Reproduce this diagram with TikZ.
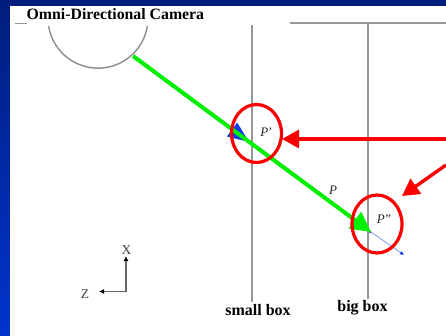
\documentclass[tikz,border=0pt]{standalone}
\usepackage{fontspec}
\setmainfont{Liberation Serif}
\usetikzlibrary{arrows.meta,shapes.geometric}
\definecolor{navy}{RGB}{0,30,125}
\definecolor{brightblue}{RGB}{0,52,205}
\definecolor{boxgray}{RGB}{150,150,150}
\definecolor{arcgray}{RGB}{140,140,140}
\definecolor{rayblue}{RGB}{20,60,230}
\definecolor{raygreen}{RGB}{0,240,0}
\definecolor{alertred}{RGB}{250,0,0}
\tikzset{
  x=1pt,y=-1pt,
  boxline/.style={draw=boxgray,line width=2pt},
  axisline/.style={draw=black!60,line width=1.1pt,-{Latex[length=5pt,width=5pt,black]}},
  ringmark/.style={draw=alertred,line width=3.2pt,ellipse,minimum width=50pt,minimum height=58pt,inner sep=0pt},
  redarrow/.style={draw=alertred,line width=3.4pt,-{Triangle[length=17pt,width=18pt,fill=alertred]}},
  bluetip/.style={draw=rayblue,line width=1pt,-{Triangle[length=21pt,width=17pt,fill=rayblue]}},
  greenray/.style={draw=raygreen,line width=4pt,-{Triangle[length=20pt,width=20pt,fill=raygreen]}},
  thinblue/.style={draw=rayblue!60,line width=0.7pt,-{Latex[length=4pt,width=4pt,rayblue]}},
  lbl/.style={font=\fontsize{16}{16}\selectfont\bfseries,text=black,inner sep=0pt},
  plbl/.style={font=\fontsize{13}{13}\selectfont\itshape,text=black!85,inner sep=0pt},
  axlbl/.style={font=\fontsize{13.5}{14}\selectfont,text=black!75,inner sep=0pt},
  dotmark/.style={circle,fill=black!60,minimum size=3pt,inner sep=0pt}
}
\begin{document}
\begin{tikzpicture}
\useasboundingbox (0,0) rectangle (446,336);
\shade[top color=navy,bottom color=brightblue] (0,0) rectangle (446,336);
\fill[navy] (0,0) rectangle (446,6);
\fill[white] (10,6) rectangle (446,336);
% frame lines
\coordinate (stubA) at (15,23); \coordinate (stubB) at (27,23);
\draw[draw=boxgray,line width=0.8pt] (stubA) -- (stubB);
\coordinate (topL) at (290,23); \coordinate (topR) at (446,23);
\draw[boxline,line width=1.3pt] (topL) -- (topR);
\coordinate (smallT) at (251.5,25); \coordinate (smallB) at (251.5,302);
\coordinate (bigT) at (367.5,23); \coordinate (bigB) at (367.5,299);
\draw[boxline] (smallT) -- (smallB);
\draw[boxline] (bigT) -- (bigB);
% camera
\draw[draw=arcgray,line width=1.4pt] (48.6,26) arc[start angle=189,end angle=351,radius=50pt];
\node[lbl,font=\fontsize{15.8}{16}\selectfont\bfseries,anchor=west] (cam) at (26.5,14) {Omni-Directional Camera};
% rays
\coordinate (rayS) at (133,56);
\coordinate (pa) at (249,142);
\coordinate (pb) at (371,232);
\coordinate (pc) at (404,255);
\node[dotmark] (dotA) at (249,142) {};
\node[dotmark] (dotP) at (327,200) {};
\node[dotmark] (dotB) at (370,232) {};
\draw[bluetip] ([xshift=0.8pt,yshift=-1pt]rayS) -- (pa);
\draw[greenray] (rayS) -- (pb);
\draw[thinblue] (pb) -- (pc);
% point labels
\node[plbl] (lA) at (266,132.5) {P\kern-1pt'};
\node[plbl] (lP) at (333,190) {P};
\node[plbl] (lB) at (384,219) {P\kern-1pt''};
% rings
\node[ringmark] (ringA) at (256.5,133.5) {};
\node[ringmark] (ringB) at (377,224) {};
% red arrows
\coordinate (redA) at (446,139);
\coordinate (redB) at (446,165);
\coordinate (tipA) at (282,139);
\coordinate (tipB) at (402,196);
\draw[redarrow] (redA) -- (tipA);
\draw[redarrow] (redB) -- (tipB);
% axes
\coordinate (org) at (126,291.5);
\coordinate (xend) at (126,256);
\coordinate (zend) at (99,291.5);
\draw[axisline] (org) -- (xend);
\draw[axisline] (org) -- (zend);
\node[axlbl] (xl) at (126.5,250) {X};
\node[axlbl] (zl) at (85,294) {Z};
% box labels
\node[lbl] (sb) at (258,310.5) {small box};
\node[lbl] (bb) at (362.5,307.5) {big box};
\end{tikzpicture}
\end{document}
